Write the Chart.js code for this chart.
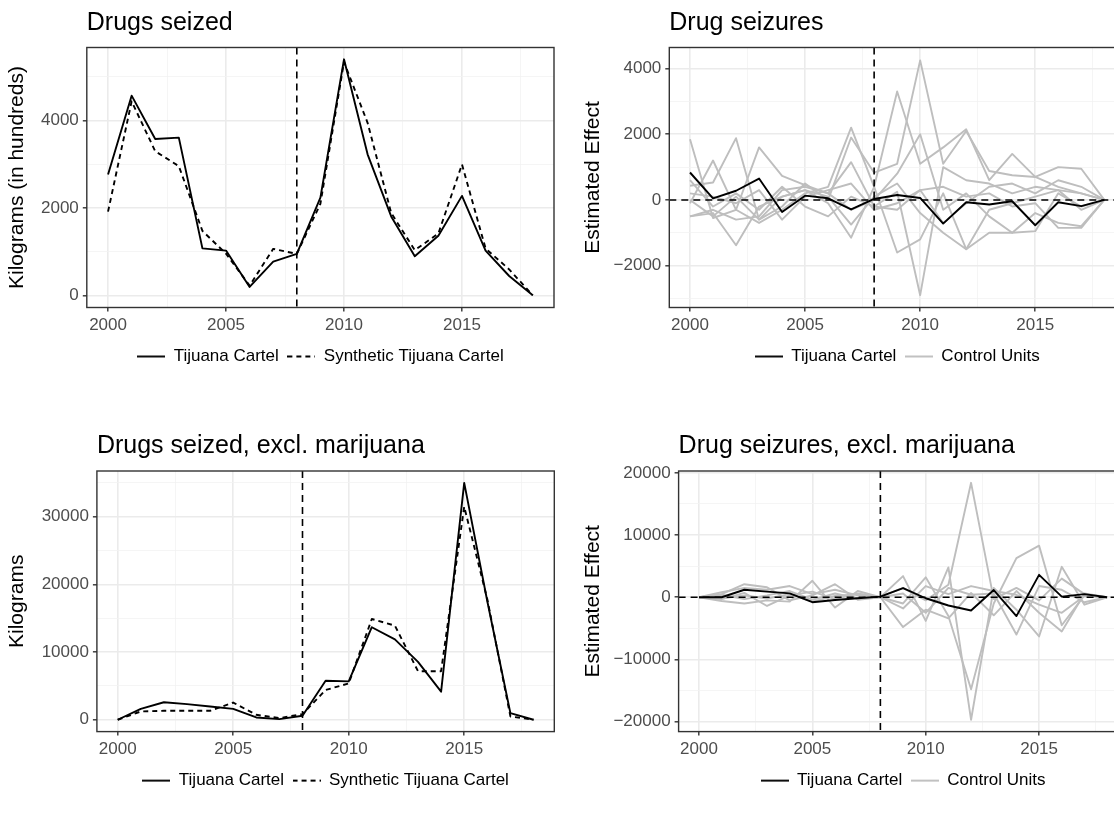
<!DOCTYPE html>
<html>
<head>
<meta charset="utf-8">
<script src="https://cdn.jsdelivr.net/npm/chart.js@4.4.1/dist/chart.umd.min.js"></script>
<style>
  body { margin: 0; width: 1114px; height: 817px; overflow: hidden; position: relative; background: #fff; }
  canvas { position: absolute; }
</style>
</head>
<body>
<canvas id="seized" width="570" height="400" style="left:0;top:0"></canvas>
<canvas id="effect" width="570" height="400" style="left:570px;top:0"></canvas>
<canvas id="seizedExcl" width="570" height="400" style="left:0;top:423px"></canvas>
<canvas id="effectExcl" width="570" height="400" style="left:570px;top:423px"></canvas>
<script>
const years = [2000, 2001, 2002, 2003, 2004, 2005, 2006, 2007, 2008, 2009, 2010, 2011, 2012, 2013, 2014, 2015, 2016, 2017, 2018];
const treatYear = 2008;
const xTicks = [2000, 2005, 2010, 2015];

// Drugs seized (kg, in hundreds)
const seizedTijuana = [2770, 4570, 3580, 3610, 1080, 1030, 200, 780, 955, 2240, 5400, 3230, 1810, 900, 1370, 2280, 1030, 450, 10];
const seizedSynthetic = [1920, 4440, 3300, 2960, 1480, 960, 230, 1070, 955, 2100, 5340, 3950, 1890, 1040, 1420, 3000, 1080, 600, 10];
const seizedTicks = [0, 2000, 4000];

// Estimated effect, drug seizures
const effectTijuana = [835, 50, 280, 650, -370, 130, 50, -290, 30, 150, 60, -720, -70, -140, -40, -770, -70, -190, 0];
const effectControls = [
  [1850, -550, -300, -700, -300, 200, 400, 2200, 400, 3300, 1100, 1600, 2150, 600, 1400, 700, 1000, 950, 0],
  [430, 530, 1880, -600, -200, 500, 0, 1900, 830, 1100, 4250, 1100, 2100, 880, 750, 700, 400, 200, 0],
  [-100, 1200, -300, 1600, 730, 450, 200, 1150, -200, 250, -2900, 1000, 600, 500, 200, 400, 300, 200, 0],
  [-500, -400, -1380, -200, 100, 300, -100, -1150, 400, -1600, -1200, 200, -1500, -1000, -1000, -400, -700, -800, 0],
  [-500, -300, -600, -500, 300, 400, 200, -300, 0, 800, 2000, -300, 200, -500, -1000, -950, 200, -200, 0],
  [600, -200, 200, -300, 400, -200, -500, 100, -200, -300, 300, -700, -100, 400, 500, 200, 600, 400, 0],
  [0, -500, 100, -600, 100, 300, 100, -750, 100, 500, -400, -1000, -1500, -300, -100, 100, 300, -300, 0],
  [200, 100, -100, 300, -600, 100, 300, 500, -300, -100, 300, 400, 100, 200, -200, -100, -850, -850, 0]
];
const effectTicks = [-2000, 0, 2000, 4000];

// Drugs seized excluding marijuana (kg)
const exclTijuana = [0, 1610, 2590, 2300, 1950, 1610, 340, 100, 590, 5760, 5660, 13660, 11860, 8540, 4150, 34980, 17500, 980, 0];
const exclSynthetic = [0, 1220, 1320, 1320, 1320, 2540, 730, 245, 830, 4390, 5370, 14880, 13900, 7170, 7170, 31460, 17800, 490, 0];
const exclTicks = [0, 10000, 20000, 30000];

// Estimated effect, excluding marijuana
const exclEffectTijuana = [0, 0, 1210, 900, 630, -800, -450, -160, 100, 1480, -160, -1330, -2130, 1160, -3030, 3600, 100, 500, 0];
const exclEffectControls = [
  [0, 800, 1500, 1200, 1800, 500, 1200, 300, 100, 1500, -500, 2000, 18400, -300, 1500, -500, 3000, 500, 0],
  [0, -600, -1000, -500, -700, 2650, -1650, 1000, 0, -1000, 3200, -3000, -14800, -1000, 6300, 8300, -4500, 300, 0],
  [0, 400, -300, 300, 1000, -400, 600, -200, 0, 3400, -3800, 4800, -19700, 1500, -2000, -6300, 4900, -1200, 0],
  [0, -300, 700, -1400, 300, 900, -300, 600, 0, -4800, -2000, -3400, 700, -2900, 1000, -2500, -5500, 600, 0],
  [0, 500, 2100, 1600, -500, 300, 2100, -400, 0, 600, -2500, 1500, 400, 600, -6000, 1800, 1200, -800, 0],
  [0, -200, 300, -200, 500, -700, 200, 500, 0, -1800, 1800, 500, 1800, 1000, 400, -1200, -2500, 200, 0]
];
const exclEffectTicks = [-20000, -10000, 0, 10000, 20000];

const FONT = "'Liberation Sans', Arial, sans-serif";
Chart.defaults.font.family = FONT;
Chart.defaults.animation = false;

const minus = v => String(v).replace('-', '\u2212');
const pts = vals => years.map((yr, i) => ({x: yr, y: vals[i]}));

// little line samples for the legend keys (so the dashed one shows dashed)
function keyImage(color, dash) {
  const c = document.createElement('canvas');
  c.width = 28;
  c.height = 4;
  const g = c.getContext('2d');
  g.strokeStyle = color;
  g.lineWidth = 1.9;
  g.setLineDash(dash);
  g.beginPath();
  g.moveTo(0, 2);
  g.lineTo(28, 2);
  g.stroke();
  return c;
}

// dashed guide lines and the panel frame
const guides = {
  id: 'guides',
  afterDatasetsDraw(chart, args, opts) {
    const {ctx, chartArea: a, scales: {x, y}} = chart;
    ctx.save();
    ctx.strokeStyle = '#000';
    ctx.lineWidth = 1.6;
    ctx.setLineDash([7, 5]);
    ctx.beginPath();
    if (opts.zero) {
      const py = y.getPixelForValue(0);
      ctx.moveTo(a.left, py);
      ctx.lineTo(a.right, py);
    }
    const px = x.getPixelForValue(treatYear);
    ctx.moveTo(px, a.top);
    ctx.lineTo(px, a.bottom);
    ctx.stroke();
    ctx.setLineDash([]);
    ctx.strokeStyle = '#333333';
    ctx.lineWidth = 1.4;
    ctx.strokeRect(a.left, a.top, a.width, a.height);
    ctx.restore();
  }
};

function gridOpts(isMajor) {
  return {
    color: c => isMajor(c.tick.value) ? '#EBEBEB' : '#F3F3F3',
    lineWidth: c => isMajor(c.tick.value) ? 1.6 : 0.8,
    tickLength: 4,
    tickWidth: 1.4,
    tickColor: c => isMajor(c.tick.value) ? '#333333' : 'rgba(0,0,0,0)'
  };
}

function makePanel(id, cfg) {
  const yMinor = [];
  const step = cfg.yTicks[1] - cfg.yTicks[0];
  for (let v = cfg.yTicks[0] - step / 2; v <= cfg.yMax; v += step) {
    if (v >= cfg.yMin) yMinor.push(v);
  }
  const yAll = cfg.yTicks.concat(yMinor).sort((a, b) => a - b);
  const xAll = [2000, 2002.5, 2005, 2007.5, 2010, 2012.5, 2015, 2017.5];
  const xMajor = v => xTicks.includes(v);
  const yMajor = v => cfg.yTicks.includes(v);

  new Chart(document.getElementById(id), {
    type: 'line',
    data: {datasets: cfg.datasets},
    options: {
      responsive: false,
      layout: {padding: cfg.padding},
      elements: {point: {radius: 0}, line: {tension: 0, borderJoinStyle: 'round'}},
      scales: {
        x: {
          type: 'linear', min: 1999.1, max: 2018.9,
          afterBuildTicks: s => { s.ticks = xAll.map(v => ({value: v})); },
          afterFit: s => { s.height = 32; },
          ticks: {
            callback: v => xMajor(v) ? String(v) : '',
            color: '#4D4D4D', font: {size: 17}, padding: 4, maxRotation: 0, autoSkip: false
          },
          grid: gridOpts(xMajor),
          border: {display: false}
        },
        y: {
          min: cfg.yMin, max: cfg.yMax,
          afterBuildTicks: s => { s.ticks = yAll.map(v => ({value: v})); },
          afterFit: s => { s.width = cfg.yWidth; },
          ticks: {
            callback: v => yMajor(v) ? minus(v) : '',
            color: '#4D4D4D', font: {size: 17}, padding: 4, autoSkip: false
          },
          grid: gridOpts(yMajor),
          border: {display: false},
          title: {display: true, text: cfg.yTitle, color: '#000', font: {size: 21}, padding: {top: cfg.yTitlePad, bottom: 0}}
        }
      },
      plugins: {
        title: {
          display: true, text: cfg.title, align: 'start', fullSize: false,
          color: '#000', font: {size: 25, weight: 'normal'}, padding: {top: 0, bottom: 9.5}
        },
        legend: {
          position: 'bottom', fullSize: false,
          labels: {
            usePointStyle: true, pointStyleWidth: 28,
            color: '#000', font: {size: 17}, padding: 8.5,
            filter: item => item.datasetIndex < 2
          }
        },
        tooltip: {enabled: false},
        guides: {zero: cfg.zero}
      }
    },
    plugins: [guides]
  });
}

function pairSets(actual, synthetic) {
  return [
    {label: 'Tijuana Cartel', data: pts(actual), borderColor: '#000', borderWidth: 1.9, pointStyle: keyImage('#000', [])},
    {label: 'Synthetic Tijuana Cartel', data: pts(synthetic), borderColor: '#000', borderWidth: 1.9, borderDash: [5, 4], pointStyle: keyImage('#000', [5, 4])}
  ];
}

function effectSets(actual, controls) {
  const sets = [{label: 'Tijuana Cartel', data: pts(actual), borderColor: '#000', borderWidth: 1.9, pointStyle: keyImage('#000', [])}];
  const grayKey = keyImage('#BEBEBE', []);
  controls.forEach((c, i) => {
    sets.push({label: i === 0 ? 'Control Units' : 'Control ' + (i + 1), data: pts(c), borderColor: '#BEBEBE', borderWidth: 1.9, pointStyle: grayKey});
  });
  return sets;
}

makePanel('seized', {
  title: 'Drugs seized', yTitle: 'Kilograms (in hundreds)',
  yMin: -270, yMax: 5670, yTicks: seizedTicks, yWidth: 84.8, yTitlePad: 2.9,
  padding: {top: 8, left: 2, right: 16, bottom: 25},
  datasets: pairSets(seizedTijuana, seizedSynthetic), zero: false
});

makePanel('effect', {
  title: 'Drug seizures', yTitle: 'Estimated Effect',
  yMin: -3275, yMax: 4641, yTicks: effectTicks, yWidth: 95.3, yTitlePad: 6.9,
  padding: {top: 8, left: 4, right: 15, bottom: 25},
  datasets: effectSets(effectTijuana, effectControls), zero: true
});

makePanel('seizedExcl', {
  title: 'Drugs seized, excl. marijuana', yTitle: 'Kilograms',
  yMin: -1749, yMax: 36729, yTicks: exclTicks, yWidth: 94.9, yTitlePad: 2.9,
  padding: {top: 8.5, left: 2, right: 15.7, bottom: 23.9},
  datasets: pairSets(exclTijuana, exclSynthetic), zero: false
});

makePanel('effectExcl', {
  title: 'Drug seizures, excl. marijuana', yTitle: 'Estimated Effect',
  yMin: -21600, yMax: 20300, yTicks: exclEffectTicks, yWidth: 104.6, yTitlePad: 6.9,
  padding: {top: 8.5, left: 4, right: 12.5, bottom: 23.9},
  datasets: effectSets(exclEffectTijuana, exclEffectControls), zero: true
});
</script>
</body>
</html>
